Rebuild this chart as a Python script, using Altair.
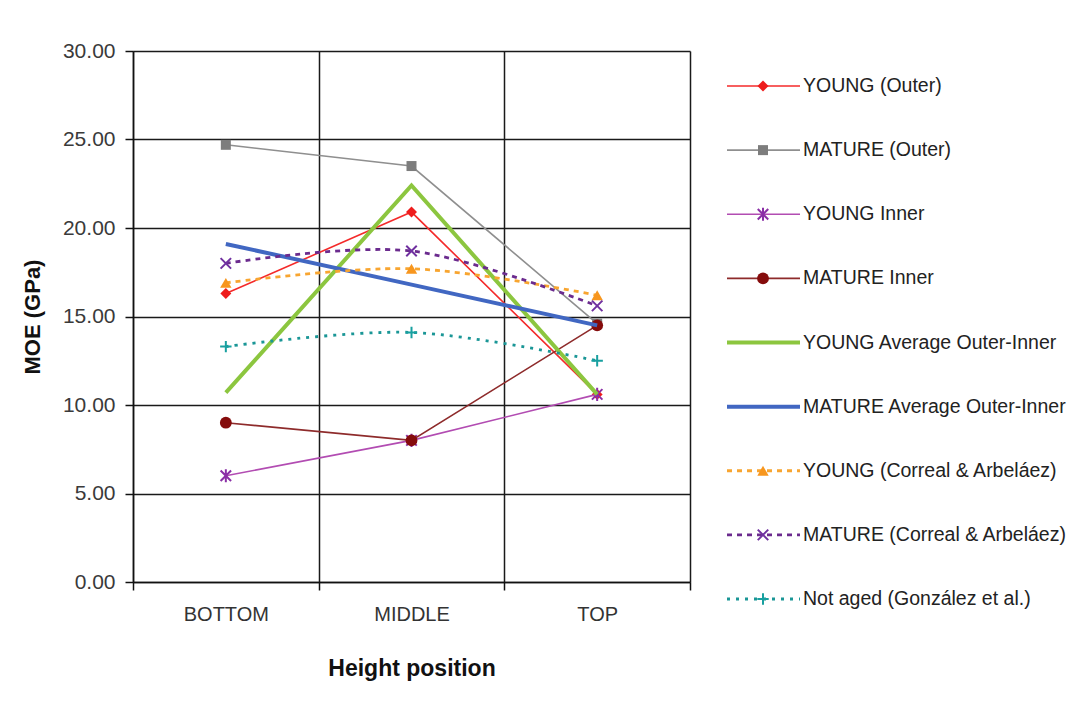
import altair as alt
import pandas as pd

# ---------------- data ----------------
positions = ["BOTTOM", "MIDDLE", "TOP"]

series_names = [
    "YOUNG (Outer)",
    "MATURE (Outer)",
    "YOUNG Inner",
    "MATURE Inner",
    "YOUNG Average Outer-Inner",
    "MATURE Average Outer-Inner",
    "YOUNG (Correal & Arbeláez)",
    "MATURE (Correal & Arbeláez)",
    "Not aged (González et al.)",
]

young_outer = [16.3, 20.9, 10.6]
mature_outer = [24.7, 23.5, 14.6]
young_inner = [6.0, 8.0, 10.6]
mature_inner = [9.0, 8.0, 14.5]
young_avg = [10.7, 22.4, 10.6]
mature_avg = [19.1, 16.8, 14.5]
young_correal = [16.9, 17.7, 16.2]
mature_correal = [18.0, 18.7, 15.6]
not_aged = [13.3, 14.1, 12.5]

series_values = [young_outer, mature_outer, young_inner, mature_inner, young_avg,
                 mature_avg, young_correal, mature_correal, not_aged]

y_ticks = [0, 5, 10, 15, 20, 25, 30]

# ---------------- styles ----------------
ASTER = "M-1,-1L1,1M-1,1L1,-1M0,-1.25L0,1.25"
XMARK = "M-1,-1L1,1M-1,1L1,-1"
PLUS = "M-1,0L1,0M0,-1L0,1"

styles = {
    "YOUNG (Outer)": dict(color="#f42a2a", mcolor="#ee1c1c", shape="diamond", filled=True, size=120, width=1.6, dash=None, interp="linear"),
    "MATURE (Outer)": dict(color="#8f8f8f", mcolor="#7d7d7d", shape="square", filled=True, size=100, width=1.6, dash=None, interp="linear"),
    "YOUNG Inner": dict(color="#b24cb2", mcolor="#8a2fa6", shape=ASTER, filled=False, size=110, width=1.6, dash=None, interp="linear"),
    "MATURE Inner": dict(color="#8e2b2b", mcolor="#850c0c", shape="circle", filled=True, size=140, width=1.6, dash=None, interp="linear"),
    "YOUNG Average Outer-Inner": dict(color="#8cc63f", mcolor=None, shape=None, filled=True, size=0, width=4, dash=None, interp="linear"),
    "MATURE Average Outer-Inner": dict(color="#4167c2", mcolor=None, shape=None, filled=True, size=0, width=4, dash=None, interp="linear"),
    "YOUNG (Correal & Arbeláez)": dict(color="#f8a530", mcolor="#f7961e", shape="triangle-up", filled=True, size=130, width=2.8, dash=[5, 5], interp="cardinal"),
    "MATURE (Correal & Arbeláez)": dict(color="#6b2b8e", mcolor="#7030a0", shape=XMARK, filled=False, size=110, width=2.8, dash=[5, 5], interp="cardinal"),
    "Not aged (González et al.)": dict(color="#1a9696", mcolor="#18a0a0", shape=PLUS, filled=False, size=130, width=2.8, dash=[3, 6], interp="cardinal"),
}

rows = []
for name, vals in zip(series_names, series_values):
    for p, v in zip(positions, vals):
        rows.append({"series": name, "position": p, "moe": v})
df = pd.DataFrame(rows)

FONT = "Liberation Sans"

x_enc = alt.X(
    "position:N",
    sort=positions,
    scale=alt.Scale(type="band", paddingInner=0, paddingOuter=0),
    axis=alt.Axis(
        title="Height position", tickBand="extent", labelAngle=0,
        labelFontSize=20, labelColor="#333333", labelFont=FONT, labelPadding=14,
        tickSize=8, tickColor="#111111", tickWidth=1.5,
        domainColor="#111111", domainWidth=1.5,
        grid=True, gridColor="#1a1a1a", gridWidth=1.5,
        titleFontSize=23, titleFont=FONT, titleFontWeight="bold", titleColor="#111111",
        titlePadding=33,
    ),
)
y_enc = alt.Y(
    "moe:Q",
    scale=alt.Scale(domain=[0, 30], nice=False, zero=True),
    axis=alt.Axis(
        title="MOE (GPa)", values=y_ticks, format=".2f",
        labelFontSize=21, labelColor="#3a3a3a", labelFont=FONT, labelPadding=10,
        tickSize=8, tickColor="#111111", tickWidth=1.5,
        domainColor="#111111", domainWidth=1.5,
        grid=True, gridColor="#1a1a1a", gridWidth=1.5,
        titleFontSize=22, titleFont=FONT, titleFontWeight="bold", titleColor="#111111",
        titlePadding=18,
    ),
)

layers = []
for name in series_names:
    st = styles[name]
    base = alt.Chart(df).transform_filter(alt.datum.series == name)
    line_kw = dict(color=st["color"], strokeWidth=st["width"], interpolate=st["interp"])
    if st["dash"]:
        line_kw["strokeDash"] = st["dash"]
    layers.append(base.mark_line(**line_kw).encode(x=x_enc, y=y_enc))
    if st["shape"]:
        if st["filled"]:
            pm = base.mark_point(shape=st["shape"], filled=True, color=st["mcolor"], size=st["size"], opacity=1)
        else:
            pm = base.mark_point(shape=st["shape"], filled=False, color=st["mcolor"], size=st["size"], strokeWidth=2, opacity=1)
        layers.append(pm.encode(x=x_enc, y=y_enc))

main = alt.layer(*layers).properties(width=557, height=531)

# ---------------- legend panel ----------------
legend_df = pd.DataFrame({"series": series_names, "idx": list(range(len(series_names)))})
ly = alt.Y("idx:Q", scale=alt.Scale(domain=[0, len(series_names) - 1], range=[35, 548]), axis=None)

leg_layers = []
for name in series_names:
    st = styles[name]
    lb = alt.Chart(legend_df).transform_filter(alt.datum.series == name)
    rule_kw = dict(color=st["color"], strokeWidth=st["width"])
    if st["dash"]:
        rule_kw["strokeDash"] = st["dash"]
    leg_layers.append(lb.mark_rule(**rule_kw).encode(x=alt.value(0), x2=alt.value(73), y=ly))
    if st["shape"]:
        if st["filled"]:
            pm = lb.mark_point(shape=st["shape"], filled=True, color=st["mcolor"], size=st["size"], opacity=1)
        else:
            pm = lb.mark_point(shape=st["shape"], filled=False, color=st["mcolor"], size=st["size"], strokeWidth=2, opacity=1)
        leg_layers.append(pm.encode(x=alt.value(36), y=ly))

leg_layers.append(
    alt.Chart(legend_df).mark_text(align="left", baseline="middle", fontSize=19.5, font=FONT, color="#222222")
    .encode(x=alt.value(76), y=ly, text="series:N")
)
legend = alt.layer(*leg_layers).properties(width=330, height=531)

chart = (
    alt.hconcat(main, legend, spacing=37, bounds="flush")
    .properties(padding={"left": 12, "top": 31, "right": 5, "bottom": 5}, background="white")
    .configure_view(stroke="transparent")
)

chart.save("out.html", embed_options={"renderer": "svg", "actions": False})
